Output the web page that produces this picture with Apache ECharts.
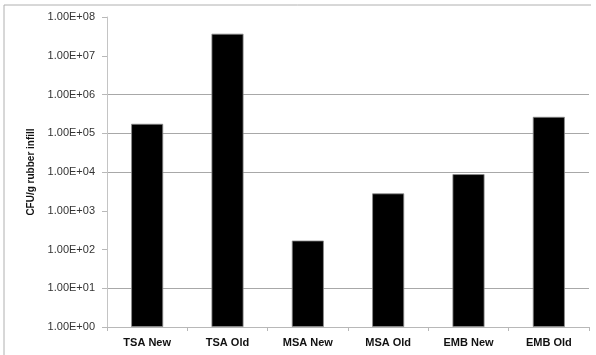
<!DOCTYPE html>
<html>
<head>
<meta charset="utf-8">
<style>
  html, body { margin: 0; padding: 0; background: #fff; }
  #chart { width: 596px; height: 355px; }
</style>
<script src="https://cdn.jsdelivr.net/npm/echarts@6/dist/echarts.min.js"></script>
</head>
<body>
<div id="chart"></div>
<script>
// Plate counts per medium and infill age
const categories = ['TSA New', 'TSA Old', 'MSA New', 'MSA Old', 'EMB New', 'EMB Old'];
const cfuValues = [175000, 37000000, 170, 2800, 8800, 265000];
const yTickLabels = ['1.00E+00', '1.00E+01', '1.00E+02', '1.00E+03', '1.00E+04',
                     '1.00E+05', '1.00E+06', '1.00E+07', '1.00E+08'];
// decades that carry a visible grid line
const gridDecades = [1, 4, 5, 6];

const chart = echarts.init(document.getElementById('chart'), null, { renderer: 'canvas' });

const splitColors = yTickLabels.map((_, i) => gridDecades.includes(i) ? '#a8a8a8' : 'rgba(0,0,0,0)');

chart.setOption({
  animation: false,
  backgroundColor: '#ffffff',
  grid: { left: 107, right: 7, top: 17, bottom: 28, containLabel: false },
  graphic: [
    {
      type: 'polyline',
      shape: { points: [[4, 355], [4, 5], [591, 5]] },
      style: { stroke: '#b0b0b0', lineWidth: 1, fill: null }
    }
  ],
  xAxis: {
    type: 'category',
    data: categories,
    axisLine: { lineStyle: { color: '#b8b8b8', width: 1 } },
    axisTick: { show: true, length: 4, alignWithLabel: false, lineStyle: { color: '#b8b8b8' } },
    axisLabel: {
      color: '#111', fontFamily: 'Liberation Sans, Arial, sans-serif',
      fontSize: 11, fontWeight: 'bold', margin: 10
    }
  },
  yAxis: {
    type: 'log',
    logBase: 10,
    min: 1,
    max: 100000000,
    name: 'CFU/g rubber infill',
    nameLocation: 'middle',
    nameGap: 71,
    nameTextStyle: {
      color: '#111', fontFamily: 'Liberation Sans, Arial, sans-serif',
      fontSize: 10, fontWeight: 'bold'
    },
    axisLine: { show: true, lineStyle: { color: '#c4c4c4', width: 1 } },
    axisTick: { show: true, length: 5, lineStyle: { color: '#b8b8b8' } },
    splitLine: { show: true, lineStyle: { color: splitColors, width: 1 } },
    axisLabel: {
      color: '#333', fontFamily: 'Liberation Sans, Arial, sans-serif',
      fontSize: 11, margin: 12,
      formatter: function (v) {
        const idx = Math.round(Math.log10(v));
        return yTickLabels[idx] !== undefined ? yTickLabels[idx] : '';
      }
    }
  },
  series: [
    {
      type: 'bar',
      data: cfuValues,
      barWidth: 32,
      itemStyle: { color: '#000000', borderColor: '#8a8a8a', borderWidth: 0.8 }
    }
  ]
});
</script>
</body>
</html>
